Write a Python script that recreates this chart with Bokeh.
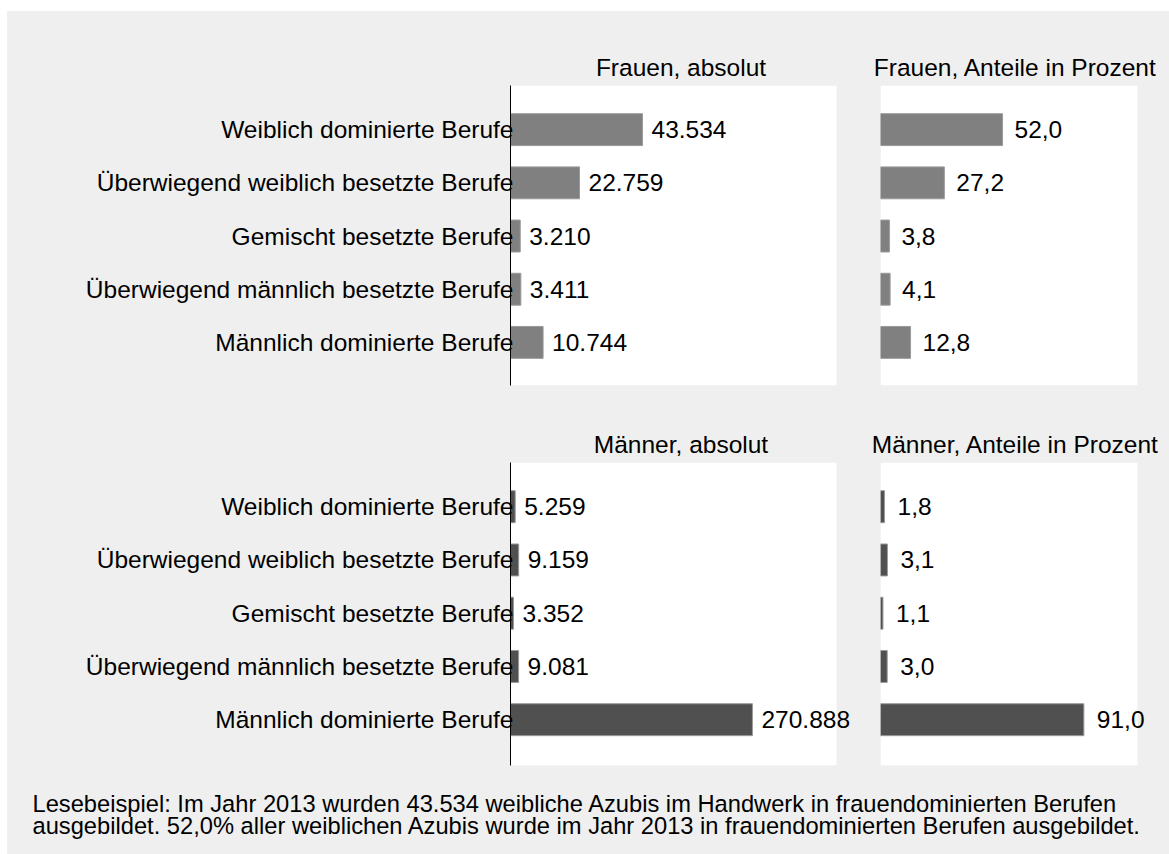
from bokeh.plotting import figure
from bokeh.layouts import column, row
from bokeh.models import Range1d, FixedTicker, ColumnDataSource
from bokeh.core.properties import value
from bokeh.embed import file_html
from bokeh.resources import INLINE

# ---------------- data ----------------
categories = [
    "Weiblich dominierte Berufe",
    "Überwiegend weiblich besetzte Berufe",
    "Gemischt besetzte Berufe",
    "Überwiegend männlich besetzte Berufe",
    "Männlich dominierte Berufe",
]
frauen_abs = [43534, 22759, 3210, 3411, 10744]
frauen_pct = [52.0, 27.2, 3.8, 4.1, 12.8]
maenner_abs = [5259, 9159, 3352, 9081, 270888]
maenner_pct = [1.8, 3.1, 1.1, 3.0, 91.0]

panel_titles = ["Frauen, absolut", "Frauen, Anteile in Prozent",
                "Männer, absolut", "Männer, Anteile in Prozent"]
footnote_lines = [
    "Lesebeispiel: Im Jahr 2013 wurden 43.534 weibliche Azubis im Handwerk in frauendominierten Berufen",
    "ausgebildet. 52,0% aller weiblichen Azubis wurde im Jahr 2013 in frauendominierten Berufen ausgebildet.",
]
# axis maxima of the white plot regions
axis_max = [107500, 109.5, 365000, 115.0]

# ---------------- style ----------------
FONT = "Liberation Sans"
BG = "#efefef"
FS = "24.5px"
COL_F = "#808080"
COL_M = "#505050"

positions = list(range(len(categories)))


def fmt_abs(v):
    return f"{v:,}".replace(",", ".")


def fmt_pct(v):
    return f"{v:.1f}".replace(".", ",")


def make_panel(title, vals, labels, color, x_max, y_lo, y_hi, with_axis,
               border_left, frame_w, white_w, border_right, border_top, frame_h,
               border_bottom, label_off):
    x_end = x_max * frame_w / white_w
    p = figure(
        width=border_left + frame_w + border_right,
        height=border_top + frame_h + border_bottom,
        x_range=Range1d(0, x_end),
        y_range=Range1d(y_hi, y_lo),
        title=title,
        output_backend="svg",
        toolbar_location=None,
        min_border_left=border_left,
        min_border_right=border_right,
        min_border_top=border_top,
        min_border_bottom=border_bottom,
        x_axis_location=None,
        y_axis_location="left" if with_axis else None,
    )
    p.background_fill_color = BG
    p.border_fill_color = BG
    p.outline_line_color = None
    p.grid.visible = False
    p.title.align = "center"
    p.title.text_font = FONT
    p.title.text_font_size = FS
    p.title.text_font_style = "normal"
    p.title.text_color = "black"
    p.title.standoff = 10

    # white plot region (0 .. axis maximum)
    p.quad(left=[0], right=[x_max], bottom=[y_lo], top=[y_hi],
           fill_color="white", line_color=None, level="underlay")

    src = ColumnDataSource(dict(y=positions, v=vals, lab=labels))
    p.hbar(y="y", left=0, right="v", height=0.6, source=src,
           fill_color=color, line_color="#9a9a9a", line_width=1)
    p.text(x="v", y="y", text="lab", source=src, x_offset=label_off,
           text_baseline="middle", text_align="left",
           text_font=value(FONT), text_font_size=FS, text_color="black")

    if with_axis:
        ax = p.yaxis[0]
        ax.ticker = FixedTicker(ticks=positions)
        ax.major_label_overrides = {i: c for i, c in zip(positions, categories)}
        ax.major_label_text_font = FONT
        ax.major_label_text_font_size = FS
        ax.major_label_text_color = "black"
        ax.major_tick_line_color = None
        ax.minor_tick_line_color = None
        ax.major_tick_out = 0
        ax.major_tick_in = 0
        ax.major_label_standoff = -3
        ax.axis_line_color = "black"
        ax.axis_line_width = 1
    return p


# the whole layout is shifted by a white margin of 7px (left) and 11px (top)
pA = make_panel(panel_titles[0], frauen_abs, [fmt_abs(v) for v in frauen_abs], COL_F,
                axis_max[0], -0.83, 4.81, True, 503, 341, 326, 7, 74, 300, 30, 9)
pB = make_panel(panel_titles[1], frauen_pct, [fmt_pct(v) for v in frauen_pct], COL_F,
                axis_max[1], -0.83, 4.81, False, 22, 270, 257, 19, 74, 300, 30, 12)
pC = make_panel(panel_titles[2], maenner_abs, [fmt_abs(v) for v in maenner_abs], COL_M,
                axis_max[2], -0.83, 4.86, True, 503, 341, 326, 7, 47, 303, 5, 9)
pD = make_panel(panel_titles[3], maenner_pct, [fmt_pct(v) for v in maenner_pct], COL_M,
                axis_max[3], -0.83, 4.86, False, 22, 270, 257, 19, 47, 303, 5, 13)

# footer with the reading example
foot = figure(width=1162, height=84, x_range=Range1d(0, 1162), y_range=Range1d(84, 0),
              output_backend="svg", toolbar_location=None, title_location=None,
              min_border=0, x_axis_location=None, y_axis_location=None)
foot.background_fill_color = BG
foot.border_fill_color = BG
foot.outline_line_color = None
foot.grid.visible = False
foot.text(x=[25, 25], y=[33, 55], text=footnote_lines,
          text_baseline="alphabetic", text_align="left",
          text_font=value(FONT), text_font_size="23.7px", text_color="black")

bgstyle = {"background-color": BG}
layout = column(row(pA, pB, styles=bgstyle), row(pC, pD, styles=bgstyle), foot,
                styles={"background-color": BG,
                        "border-top": "11px solid #ffffff",
                        "border-left": "7px solid #ffffff"})

html = file_html(layout, INLINE)
html = html.replace("<body>", '<body style="background-color:#efefef;">', 1)
open("out.html", "w").write(html)
